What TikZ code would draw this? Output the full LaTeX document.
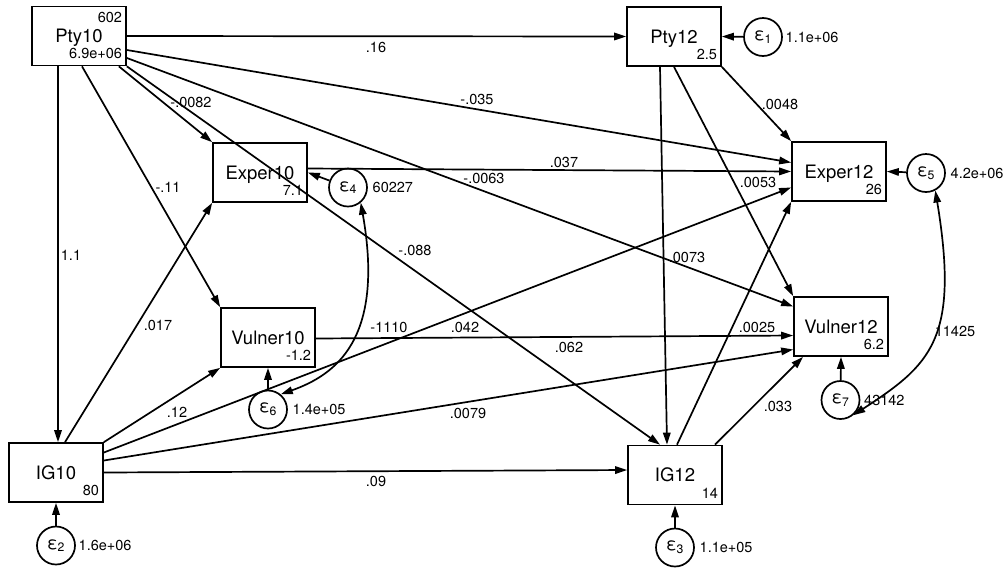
\documentclass[tikz,border=0pt]{standalone}
\usepackage{fontspec}
\setmainfont{TeX Gyre Heros}
\usetikzlibrary{positioning,arrows.meta}

\begin{document}
\begin{tikzpicture}[x=1pt,y=-1pt,line width=1.7pt,>={Stealth[length=12pt,width=7.5pt,inset=0pt]},
  obs/.style={draw,rectangle,minimum width=94pt,minimum height=59pt,inner sep=0pt,text height=13.3pt,text depth=0pt,font=\fontsize{18.5}{20}\selectfont},
  err/.style={draw,circle,minimum size=38pt,inner sep=0pt,font=\fontsize{17.5}{18}\selectfont},
  val/.style={inner sep=0pt,font=\fontsize{14.5}{16}\selectfont},
  coef/.style={inner sep=0pt,font=\fontsize{14.5}{16}\selectfont}]
\useasboundingbox (0,0) rectangle (1008,571);
% observed variables
\node[obs] (Pty10) at (79,36) {Pty10};
\node[obs] (Pty12) at (674,36.5) {Pty12};
\node[obs] (Exper10) at (260,172.5) {Exper10};
\node[obs] (Exper12) at (839,171.5) {Exper12};
\node[obs] (Vulner10) at (268,337.5) {Vulner10};
\node[obs] (Vulner12) at (841,326.5) {Vulner12};
\node[obs] (IG10) at (56,472.5) {IG10};
\node[obs] (IG12) at (675,475) {IG12};
% means and intercepts
\node[val,anchor=north east] (Pty10m) at ([xshift=-4pt,yshift=-6pt]Pty10.north east) {602};
\node[val,anchor=south east] (Pty10v) at ([xshift=-4pt,yshift=6.5pt]Pty10.south east) {6.9e+06};
\node[val,anchor=south east] (Pty12i) at ([xshift=-4pt,yshift=6.5pt]Pty12.south east) {2.5};
\node[val,anchor=south east] (Exper10i) at ([xshift=-4pt,yshift=6.5pt]Exper10.south east) {7.1};
\node[val,anchor=south east] (Exper12i) at ([xshift=-4pt,yshift=6.5pt]Exper12.south east) {26};
\node[val,anchor=south east] (Vulner10i) at ([xshift=-4pt,yshift=6.5pt]Vulner10.south east) {-1.2};
\node[val,anchor=south east] (Vulner12i) at ([xshift=-4pt,yshift=6.5pt]Vulner12.south east) {6.2};
\node[val,anchor=south east] (IG10i) at ([xshift=-4pt,yshift=6.5pt]IG10.south east) {80};
\node[val,anchor=south east] (IG12i) at ([xshift=-4pt,yshift=6.5pt]IG12.south east) {14};
% error terms
\node[err] (e1) at (763,37) {ε\textsubscript{1}};
\node[err] (e2) at (56,545.5) {ε\textsubscript{2}};
\node[err] (e3) at (675,547.5) {ε\textsubscript{3}};
\node[err] (e4) at (348,187.5) {ε\textsubscript{4}};
\node[err] (e5) at (926,173) {ε\textsubscript{5}};
\node[err] (e6) at (268,409.5) {ε\textsubscript{6}};
\node[err] (e7) at (840.5,400) {ε\textsubscript{7}};
\node[val,right=2pt of e1] (e1v) {1.1e+06};
\node[val,right=2pt of e2] (e2v) {1.6e+06};
\node[val,right=4pt of e3] (e3v) {1.1e+05};
\node[val,right=4pt of e4] (e4v) {60227};
\node[val,right=4pt of e5] (e5v) {4.2e+06};
\node[val,right=4pt of e6] (e6v) {1.4e+05};
\node[val,right=3pt of e7] (e7v) {43142};
% paths
\draw[->] (Pty10.east) -- (Pty12.west);
\draw[->] ([yshift=-14pt]Pty10.east) -- ([yshift=9pt]Exper12.west);
\draw[->] ([yshift=-22pt]Pty10.east) -- ([yshift=20pt]Vulner12.west);
\draw[->] (Pty10.south east) -- ([xshift=-15pt]IG12.north);
\draw[->] ([xshift=-8pt]Pty10.south east) -- (Exper10.north west);
\draw[->] ([xshift=3pt]Pty10.south) -- (Vulner10.north west);
\draw[->] ([xshift=-21pt]Pty10.south) -- ([xshift=2pt]IG10.north);
\draw[->] (Pty12.south east) -- (Exper12.north west);
\draw[->] (Pty12.south) -- (Vulner12.north west);
\draw[->] ([xshift=-14pt]Pty12.south) -- ([xshift=-8pt]IG12.north);
\draw[->] ([yshift=4pt]Exper10.east) -- (Exper12.west);
\draw[->] ([xshift=9pt]IG10.north) -- (Exper10.south west);
\draw[->] (IG10.north east) -- (Vulner10.south west);
\draw[->] ([yshift=20pt]IG10.east) -- ([yshift=-16pt]Exper12.west);
\draw[->] ([yshift=12pt]IG10.east) -- ([yshift=-23pt]Vulner12.west);
\draw[->] (IG10.east) -- ([yshift=5pt]IG12.west);
\draw[->] ([xshift=2pt]IG12.north) -- (Exper12.south west);
\draw[->] ([xshift=40pt]IG12.north) -- ([xshift=-38pt]Vulner12.south);
\draw[->] ([yshift=-1pt]Vulner10.east) -- ([yshift=-9pt]Vulner12.west);
% errors
\draw[->] (e1) -- (Pty12.east);
\draw[->] (e2) -- (IG10.south);
\draw[->] (e3) -- (IG12.south);
\draw[->] (e4) -- (Exper10.east);
\draw[->] (e5) -- (Exper12.east);
\draw[->] (e6) -- (Vulner10.south);
\draw[->] (e7) -- (Vulner12.south);
% covariances
\draw[<->] (e4.-50) .. controls (385,340) and (335,375) .. (e6.50);
\draw[<->] (e5.-62) .. controls (960,340) and (930,365) .. (e7.-50);
% coefficients
\node[coef] (c1) at (376,47) {.16};
\node[coef] (c2) at (477,99) {-.035};
\node[coef] (c3) at (191,102) {-.0082};
\node[coef] (c4) at (168,187) {-.11};
\node[coef] (c5) at (71,255) {1.1};
\node[coef] (c6) at (564,162) {.037};
\node[coef] (c7) at (484,178) {-.0063};
\node[coef] (c8) at (780,104) {.0048};
\node[coef] (c9) at (758,182) {.0053};
\node[coef] (c10) at (415,250) {-.088};
\node[coef] (c11) at (687,257) {.0073};
\node[coef] (c12) at (158,325) {.017};
\node[coef] (c13) at (389,327) {-1110};
\node[coef] (c14) at (465,327) {.042};
\node[coef] (c15) at (569,347) {.062};
\node[coef] (c16) at (757,327) {.0025};
\node[coef] (c17) at (955,331) {11425};
\node[coef] (c18) at (177,412) {.12};
\node[coef] (c19) at (468,413) {.0079};
\node[coef] (c20) at (376,481) {.09};
\node[coef] (c21) at (778,406) {.033};
\end{tikzpicture}
\end{document}
